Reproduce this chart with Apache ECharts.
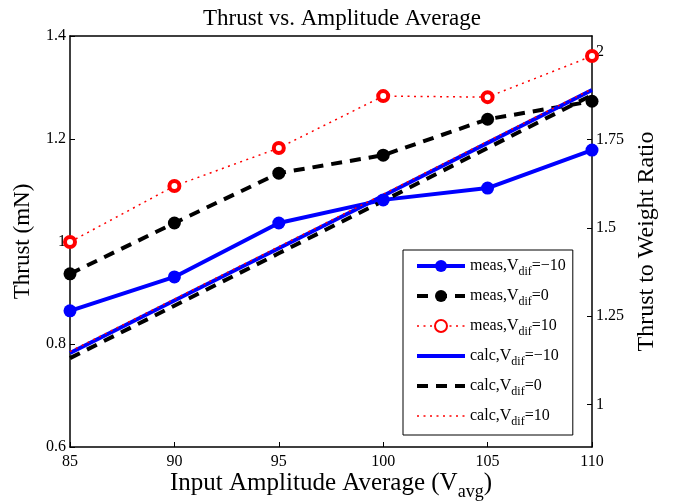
<!DOCTYPE html>
<html>
<head>
<meta charset="utf-8">
<title>Thrust vs. Amplitude Average</title>
<script src="https://cdn.jsdelivr.net/npm/echarts@6/dist/echarts.min.js"></script>
<style>
    html, body { margin: 0; padding: 0; background: #fff; }
    #chart { width: 684px; height: 504px; }
</style>
</head>
<body>
<div id="chart"></div>
<script>
// input amplitude average (V)
const vAvg = [85, 90, 95, 100, 105, 110];

// measured thrust (mN)
const measNeg10 = [0.865, 0.931, 1.036, 1.081, 1.104, 1.178];
const measZero  = [0.937, 1.036, 1.133, 1.168, 1.238, 1.273];
const measPos10 = [0.999, 1.108, 1.182, 1.283, 1.281, 1.361];

// calculated thrust (mN)
const calcNeg10 = [0.783, 0.885, 0.987, 1.089, 1.192, 1.295];
const calcZero  = [0.773, 0.875, 0.977, 1.079, 1.182, 1.285];
const calcPos10 = [0.786, 0.888, 0.990, 1.092, 1.195, 1.297];

const ratioTicks = [1, 1.25, 1.5, 1.75, 2];

const legendNames = ['meas,-10', 'meas,0', 'meas,10', 'calc,-10', 'calc,0', 'calc,10'];

const serif = 'Liberation Serif';

function pairs(ys) {
    return vAvg.map((x, i) => [x, ys[i]]);
}

// legend label with V_dif subscript
function legendLabel(name) {
    let parts = name.split(',');
    let num = parts[1].replace('-', '\u2212');
    return '{n|' + parts[0] + ',V}{s|dif}{n|=' + num + '}';
}

// red entries keep the thin dotted line, the others are thick
// calc entries: line only, hide the marker the legend adds by default
let legendData = legendNames.map(n => {
    let item = { name: n, lineStyle: { width: n.indexOf(',10') > 0 ? 1.5 : 4 } };
    if (n.indexOf('calc') === 0) item.itemStyle = { opacity: 0 };
    return item;
});

let chart = echarts.init(document.getElementById('chart'));

let option = {
    animation: false,
    backgroundColor: '#fff',
    title: {
        text: 'Thrust vs. Amplitude Average',
        left: 'center',
        top: 2,
        textStyle: { fontFamily: serif, fontSize: 23, fontWeight: 'normal', color: '#000' }
    },
    grid: { left: 70, right: 92, top: 36, bottom: 57, outerBoundsMode: 'none', containLabel: false },
    legend: {
        orient: 'vertical',
        left: 403,
        top: 250,
        width: 169,
        padding: [8, 7, 7, 12],
        itemGap: 10,
        itemWidth: 48,
        itemHeight: 15,
        backgroundColor: '#fff',
        borderColor: '#000',
        borderWidth: 1,
        data: legendData,
        formatter: legendLabel,
        textStyle: {
            fontFamily: serif,
            fontSize: 16,
            color: '#000',
            rich: {
                n: { fontFamily: serif, fontSize: 16, color: '#000' },
                s: { fontFamily: serif, fontSize: 12, color: '#000', padding: [12, 0, 0, 0] }
            }
        }
    },
    xAxis: [{
        type: 'value',
        min: 85,
        max: 110,
        interval: 5,
        name: '{n|Input Amplitude Average (V}{s|avg}{n|)}',
        nameLocation: 'middle',
        nameGap: 18,
        nameMoveOverlap: false,
        nameTextStyle: {
            rich: {
                n: { fontFamily: serif, fontSize: 25, color: '#000' },
                s: { fontFamily: serif, fontSize: 18, color: '#000', padding: [18, 0, 0, 0] }
            }
        },
        axisLine: { lineStyle: { color: '#000', width: 1.5 } },
        axisTick: { inside: true, length: 5, lineStyle: { color: '#000' } },
        axisLabel: { fontFamily: serif, fontSize: 16, color: '#000', margin: 7 },
        splitLine: { show: false }
    }, {
        // top edge of the box
        type: 'value',
        position: 'top',
        min: 85,
        max: 110,
        axisLine: { lineStyle: { color: '#000', width: 1.5 } },
        axisTick: { show: false },
        axisLabel: { show: false },
        splitLine: { show: false }
    }],
    yAxis: [{
        type: 'value',
        min: 0.6,
        max: 1.4,
        interval: 0.2,
        name: 'Thrust (mN)',
        nameLocation: 'middle',
        nameGap: 36,
        nameTextStyle: { fontFamily: serif, fontSize: 23, color: '#000' },
        axisLine: { show: true, lineStyle: { color: '#000', width: 1.5 } },
        axisTick: { inside: true, length: 5, lineStyle: { color: '#000' } },
        axisLabel: {
            fontFamily: serif, fontSize: 16, color: '#000', margin: 4,
            formatter: v => String(Math.round(v * 10) / 10)
        },
        splitLine: { show: false }
    }, {
        type: 'value',
        position: 'right',
        min: 0.879,
        max: 2.044,
        name: 'Thrust to Weight Ratio',
        nameLocation: 'middle',
        nameGap: 41,
        nameTextStyle: { fontFamily: serif, fontSize: 24, color: '#000' },
        axisLine: { show: true, lineStyle: { color: '#000', width: 1.5 } },
        axisTick: { inside: true, length: 5, customValues: ratioTicks, lineStyle: { color: '#000' } },
        axisLabel: {
            fontFamily: serif, fontSize: 16, color: '#000', margin: 4,
            customValues: ratioTicks,
            formatter: v => String(v)
        },
        splitLine: { show: false }
    }],
    series: [
        // ---- measured ----
        {
            name: 'meas,-10', type: 'line', data: pairs(measNeg10),
            symbol: 'circle', symbolSize: 13,
            lineStyle: { color: '#0000ff', width: 4 },
            itemStyle: { color: '#0000ff' }
        },
        {
            name: 'meas,0', type: 'line', data: pairs(measZero),
            symbol: 'circle', symbolSize: 13,
            lineStyle: { color: '#000', width: 4, type: [11, 8] },
            itemStyle: { color: '#000' }
        },
        {
            name: 'meas,10', type: 'line', data: pairs(measPos10),
            symbol: 'circle', symbolSize: 10,
            lineStyle: { color: '#ff0000', width: 1.5, type: [2, 4.5] },
            itemStyle: { color: '#fff', borderColor: '#ff0000', borderWidth: 4 }
        },
        // ---- calculated ----
        {
            name: 'calc,0', type: 'line', data: pairs(calcZero),
            symbol: 'none',
            lineStyle: { color: '#000', width: 4, type: [11, 8] },
            itemStyle: { color: '#000' }
        },
        {
            name: 'calc,-10', type: 'line', data: pairs(calcNeg10),
            symbol: 'none',
            lineStyle: { color: '#0000ff', width: 4 },
            itemStyle: { color: '#0000ff' }
        },
        {
            name: 'calc,10', type: 'line', data: pairs(calcPos10),
            symbol: 'none',
            lineStyle: { color: '#ff0000', width: 1.5, type: [2, 4.5] },
            itemStyle: { color: '#ff0000' }
        }
    ]
};

chart.setOption(option);
</script>
</body>
</html>
